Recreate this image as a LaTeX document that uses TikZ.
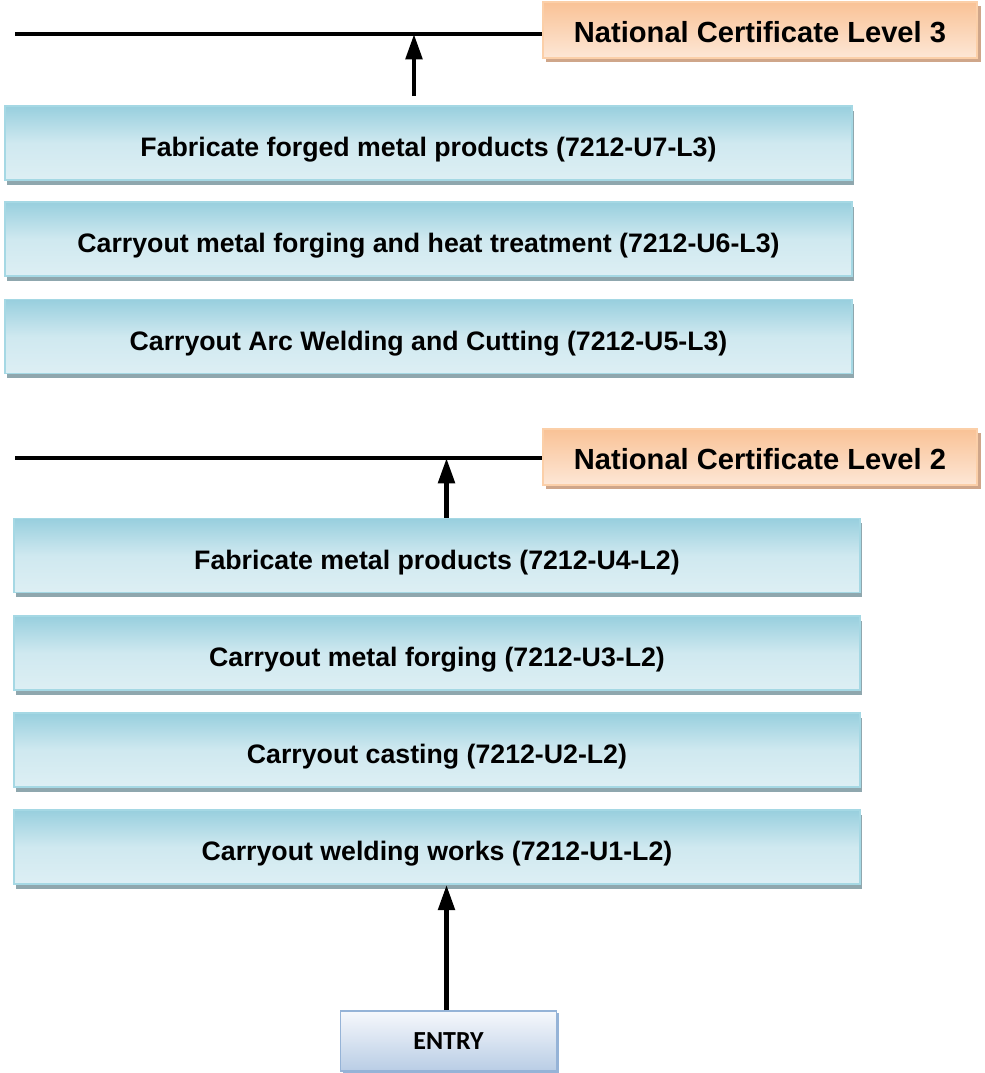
\documentclass[tikz,border=0pt]{standalone}
\usepackage{fontspec}
\setmainfont{Liberation Sans}
\newfontfamily\entryfont{Carlito}
\usetikzlibrary{arrows.meta}
\usetikzlibrary{shadows}
\definecolor{unitdark}{HTML}{98CFDE}
\definecolor{unitlight}{HTML}{DDEFF4}
\definecolor{unitedge}{HTML}{A5D8E4}
\definecolor{unitshadow}{HTML}{8FA7AE}
\definecolor{certdark}{HTML}{F9C296}
\definecolor{certlight}{HTML}{FDE7D6}
\definecolor{certedge}{HTML}{FBCFA8}
\definecolor{certshadow}{HTML}{CFA68A}
\definecolor{entrydark}{HTML}{B9CDE5}
\definecolor{entrylight}{HTML}{F6F8FC}
\definecolor{entryedge}{HTML}{95B3D7}
\tikzstyle{unit}=[draw=unitedge,line width=1.2pt,top color=unitdark,bottom color=unitlight,middle color=unitlight!80!unitdark,
  minimum height=1.85cm,text height=19.8pt,text depth=0pt,font=\fontsize{19}{22}\selectfont\bfseries,
  drop shadow={shadow xshift=1.5pt,shadow yshift=-3.5pt,fill=unitshadow,opacity=1}]
\tikzstyle{cert}=[draw=certedge,line width=1.2pt,top color=certdark,bottom color=certlight,
  minimum width=10.85cm,minimum height=1.4cm,text height=17.8pt,text depth=0pt,font=\fontsize{20.7}{24}\selectfont\bfseries,
  drop shadow={shadow xshift=2.5pt,shadow yshift=-2.5pt,fill=certshadow,opacity=1}]
\tikzstyle{bar}=[line width=3.5pt]
\tikzstyle{up}=[line width=3.4pt,-{Triangle[length=18pt,width=11.5pt]}]

\begin{document}
\begin{tikzpicture}[x=0.025cm,y=-0.025cm]
\useasboundingbox (0,0) rectangle (985,1073);
% level 3 units
\node [unit,minimum width=21.18cm] (u7) at (428.5,143) {Fabricate forged metal products (7212-U7-L3)};
\node [unit,minimum width=21.18cm] (u6) at (428.5,239) {Carryout metal forging and heat treatment (7212-U6-L3)};
\node [unit,minimum width=21.18cm] (u5) at (428.5,336.5) {Carryout Arc Welding and Cutting (7212-U5-L3)};
% level 2 units
\node [unit,minimum width=21.15cm] (u4) at (437,555.5) {Fabricate metal products (7212-U4-L2)};
\node [unit,minimum width=21.15cm] (u3) at (437,653) {Carryout metal forging (7212-U3-L2)};
\node [unit,minimum width=21.15cm] (u2) at (437,750) {Carryout casting (7212-U2-L2)};
\node [unit,minimum width=21.15cm] (u1) at (437,847) {Carryout welding works (7212-U1-L2)};

% certificates
\node [cert] (nc3) at (760,30) {National Certificate Level 3};
\node [cert] (nc2) at (760,457) {National Certificate Level 2};
\node [draw=entryedge,line width=1.2pt,top color=entrylight,bottom color=entrydark,minimum width=5.4cm,minimum height=1.5cm,font=\entryfont\fontsize{18.5}{22}\selectfont\bfseries,drop shadow={shadow xshift=1.5pt,shadow yshift=-1.5pt,fill=entryedge,opacity=1}] (entry) at (448.5,1041) {ENTRY};

\coordinate (l3) at (15,34);
\coordinate (l2) at (15,458);
\coordinate (a3) at (414,34);
\coordinate (a2) at (446.5,458);
\draw [bar] (l3) -- (l3 -| nc3.west);
\draw [bar] (l2) -- (l2 -| nc2.west);
\draw [up] (u7.north -| a3) ++(0,-9) -- (a3);
\draw [up] (u4.north -| a2) -- (a2);
\draw [up] (entry.north -| a2) -- (u1.south -| a2);
\end{tikzpicture}
\end{document}
